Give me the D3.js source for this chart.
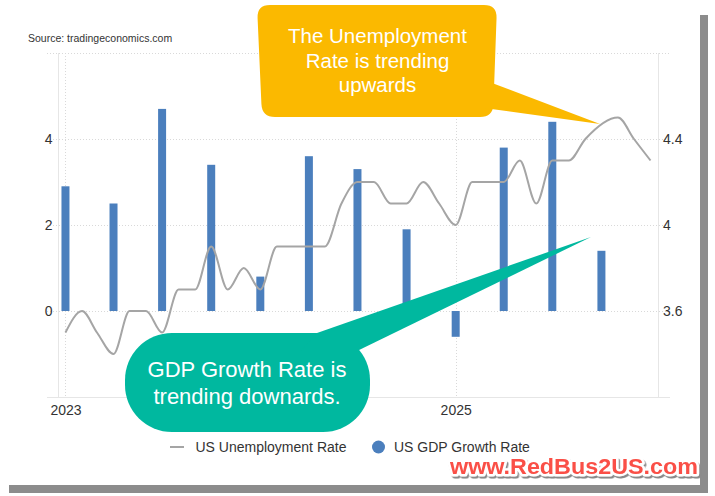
<!DOCTYPE html>
<html>
<head>
<meta charset="utf-8">
<script src="https://cdn.jsdelivr.net/npm/d3@7"></script>
<style>
    body { margin: 0; background: #fff; }
    svg { display: block; font-family: "Liberation Sans", Arial, Helvetica, sans-serif; }
</style>
</head>
<body>
<div id="chart"></div>
<script>
// monthly, Jan 2023 .. Jan 2026 (Oct 2025 was not published)
var unemploymentStart = "2023-01";
var unemploymentRate = [
    3.5, 3.6, 3.5, 3.4, 3.6, 3.6, 3.5, 3.7, 3.7, 3.9, 3.7, 3.8,
    3.7, 3.9, 3.9, 3.9, 3.9, 4.1, 4.2, 4.2, 4.1, 4.1, 4.2, 4.1,
    4.0, 4.2, 4.2, 4.2, 4.3, 4.1, 4.3, 4.3, 4.4, null, 4.5, 4.4,
    4.3
];
var gdpQuarters = ["2023-01", "2023-04", "2023-07", "2023-10",
                   "2024-01", "2024-04", "2024-07", "2024-10",
                   "2025-01", "2025-04", "2025-07", "2025-10"];
var gdpGrowth = [2.9, 2.5, 4.7, 3.4, 0.8, 3.6, 3.3, 1.9, -0.6, 3.8, 4.4, 1.4];

var leftTicks = [0, 2, 4];
var leftGrid = [6, 4, 2, 0];
var rightTicks = [3.6, 4, 4.4];
var yearTicks = ["2023", "2025"];

var legendLabels = ["US Unemployment Rate", "US GDP Growth Rate"];
var upCallout = ["The Unemployment", "Rate is trending", "upwards"];
var downCallout = ["GDP Growth Rate is", "trending downards."];

initChart();

function initChart() {
    var W = 715, H = 496;
    var left = 58, right = 658, top = 53, bottom = 397;
    var parseMonth = d3.timeParse("%Y-%m"),
            parseYear = d3.timeParse("%Y");

    var lineColor = "#a5a5a5",
            barColor = "#4b7fbd",
            gridColor = "#d9d9d9",
            textColor = "#333";

    var start = parseMonth(unemploymentStart);
    var unemp = unemploymentRate.map(function(v, i) {
        return {date: d3.timeMonth.offset(start, i), value: v};
    });
    var unempShown = unemp.filter(function(d) { return d.value !== null; });
    var gdp = gdpGrowth.map(function(v, i) {
        return {date: parseMonth(gdpQuarters[i]), value: v};
    });

    var x = d3.scaleTime()
            .domain([d3.timeDay.offset(unemp[0].date, -14),
                d3.timeDay.offset(unemp[unemp.length - 1].date, 14)])
            .range([left, right]);
    var yLeft = d3.scaleLinear().domain([-2, 6]).range([bottom, top]);
    var yRight = d3.scaleLinear().domain([3.2, 4.8]).range([bottom, top]);

    var svg = d3.select("#chart").append("svg")
            .attr("width", W)
            .attr("height", H);

    var shadow = svg.append("defs").append("filter")
            .attr("id", "wmShadow")
            .attr("x", "-5%").attr("y", "-30%")
            .attr("width", "110%").attr("height", "160%");
    shadow.append("feDropShadow")
            .attr("dx", 1.5).attr("dy", 2)
            .attr("stdDeviation", 0.6)
            .attr("flood-color", "#8a8a8a");

    // card + shadow
    svg.append("rect").attr("width", W).attr("height", H).attr("fill", "#fff");
    svg.append("rect").attr("x", 700).attr("y", 15).attr("width", 8).attr("height", 478).attr("fill", "#8c8c8c");
    svg.append("rect").attr("x", 9).attr("y", 485).attr("width", 699).attr("height", 8).attr("fill", "#8c8c8c");
    svg.append("rect").attr("x", 0).attr("y", 0).attr("width", 700).attr("height", 485).attr("fill", "#fff");

    svg.append("text")
            .attr("x", 28).attr("y", 41.7)
            .attr("font-size", 10.5).attr("fill", textColor)
            .text("Source: tradingeconomics.com");

    // grid
    svg.append("g").selectAll("line")
            .data(leftGrid)
            .enter().append("line")
            .attr("x1", 47).attr("x2", 670)
            .attr("y1", function(d) { return yLeft(d) + 0.5; })
            .attr("y2", function(d) { return yLeft(d) + 0.5; })
            .attr("stroke", gridColor)
            .attr("stroke-dasharray", "1,2");

    svg.append("g").selectAll("line")
            .data(yearTicks)
            .enter().append("line")
            .attr("x1", function(d) { return Math.round(x(parseYear(d))) + 0.5; })
            .attr("x2", function(d) { return Math.round(x(parseYear(d))) + 0.5; })
            .attr("y1", top).attr("y2", bottom)
            .attr("stroke", gridColor)
            .attr("stroke-dasharray", "1,2");

    svg.append("line").attr("x1", left + 0.5).attr("x2", left + 0.5).attr("y1", top).attr("y2", bottom).attr("stroke", "#e6e6e6");
    svg.append("line").attr("x1", right + 0.5).attr("x2", right + 0.5).attr("y1", top).attr("y2", bottom).attr("stroke", "#e6e6e6");
    svg.append("line").attr("x1", 47).attr("x2", 670).attr("y1", bottom + 0.5).attr("y2", bottom + 0.5).attr("stroke", "#e6e6e6");

    // axes
    var gl = svg.append("g")
            .attr("transform", "translate(" + left + ",0)")
            .call(d3.axisLeft(yLeft).tickValues(leftTicks).tickSize(0).tickPadding(5.5));
    var gr = svg.append("g")
            .attr("transform", "translate(" + right + ",0)")
            .call(d3.axisRight(yRight).tickValues(rightTicks).tickSize(0).tickPadding(5).tickFormat(d3.format("")));
    var gb = svg.append("g")
            .attr("transform", "translate(0," + bottom + ")")
            .call(d3.axisBottom(x)
                    .tickValues(yearTicks.map(parseYear))
                    .tickFormat(d3.timeFormat("%Y"))
                    .tickSize(0).tickPadding(8));
    [gl, gr, gb].forEach(function(g) {
        g.select(".domain").remove();
        g.attr("font-family", null).attr("font-size", 14);
        g.selectAll("text").attr("fill", textColor);
    });

    // bars
    svg.append("g").selectAll("rect")
            .data(gdp)
            .enter().append("rect")
            .attr("x", function(d) { return x(d.date) - 4; })
            .attr("width", 8)
            .attr("y", function(d) { return yLeft(Math.max(0, d.value)); })
            .attr("height", function(d) { return Math.abs(yLeft(d.value) - yLeft(0)); })
            .attr("fill", barColor);

    // unemployment line
    var line = d3.line()
            .x(function(d) { return x(d.date); })
            .y(function(d) { return yRight(d.value); })
            .curve(d3.curveMonotoneX);
    svg.append("path")
            .datum(unempShown)
            .attr("d", line)
            .attr("fill", "none")
            .attr("stroke", lineColor)
            .attr("stroke-width", 2)
            .attr("stroke-linejoin", "round");

    // legend
    svg.append("line").attr("x1", 170).attr("x2", 184).attr("y1", 447).attr("y2", 447)
            .attr("stroke", lineColor).attr("stroke-width", 2);
    svg.append("text").attr("x", 195.5).attr("y", 452).attr("font-size", 14).attr("fill", textColor)
            .text(legendLabels[0]);
    svg.append("circle").attr("cx", 378.5).attr("cy", 447).attr("r", 6.5).attr("fill", barColor);
    svg.append("text").attr("x", 394).attr("y", 452).attr("font-size", 14).attr("fill", textColor)
            .text(legendLabels[1]);

    // yellow callout
    var yellow = "#fbb900";
    svg.append("path")
            .attr("d", roundedShape([[257, 5], [497, 5], [493, 117], [262, 117]], 13))
            .attr("fill", yellow);
    svg.append("polygon")
            .attr("points", "484,80 600,124 484,108")
            .attr("fill", yellow);
    svg.append("text")
            .attr("text-anchor", "middle")
            .attr("font-size", 20.5).attr("fill", "#fff")
            .selectAll("tspan")
            .data(upCallout)
            .enter().append("tspan")
            .attr("x", 377.5)
            .attr("y", function(d, i) { return 43 + i * 24.7; })
            .text(function(d) { return d; });

    // green callout
    var green = "#00b89f";
    svg.append("rect")
            .attr("x", 125).attr("y", 333).attr("width", 245).attr("height", 99)
            .attr("rx", 47).attr("fill", green);
    svg.append("polygon")
            .attr("points", "317,333 591,237 355,352 300,352")
            .attr("fill", green);
    svg.append("text")
            .attr("text-anchor", "middle")
            .attr("font-size", 22).attr("fill", "#fff")
            .selectAll("tspan")
            .data(downCallout)
            .enter().append("tspan")
            .attr("x", 247)
            .attr("y", function(d, i) { return 377 + i * 26.5; })
            .text(function(d) { return d; });

    // watermark: red text, white outline, grey drop shadow
    svg.append("text")
            .attr("x", 450).attr("y", 474)
            .attr("font-size", 22.5).attr("font-weight", "bold")
            .attr("textLength", 248)
            .attr("lengthAdjust", "spacingAndGlyphs")
            .attr("fill", "#fa5046")
            .attr("stroke", "#fff")
            .attr("stroke-width", 5)
            .attr("stroke-linejoin", "round")
            .attr("paint-order", "stroke")
            .attr("filter", "url(#wmShadow)")
            .text("www.RedBus2US.com");
}

function roundedShape(pts, r) {
    var n = pts.length, d = "";
    for (var i = 0; i < n; i++) {
        var p0 = pts[(i + n - 1) % n], p1 = pts[i], p2 = pts[(i + 1) % n];
        var a = towards(p1, p0, r), b = towards(p1, p2, r);
        d += (i === 0 ? "M" : "L") + a[0] + "," + a[1] + "Q" + p1[0] + "," + p1[1] + " " + b[0] + "," + b[1];
    }
    return d + "Z";
}

function towards(p, q, r) {
    var dx = q[0] - p[0], dy = q[1] - p[1], len = Math.sqrt(dx * dx + dy * dy);
    return [p[0] + dx / len * r, p[1] + dy / len * r];
}
</script>
</body>
</html>
